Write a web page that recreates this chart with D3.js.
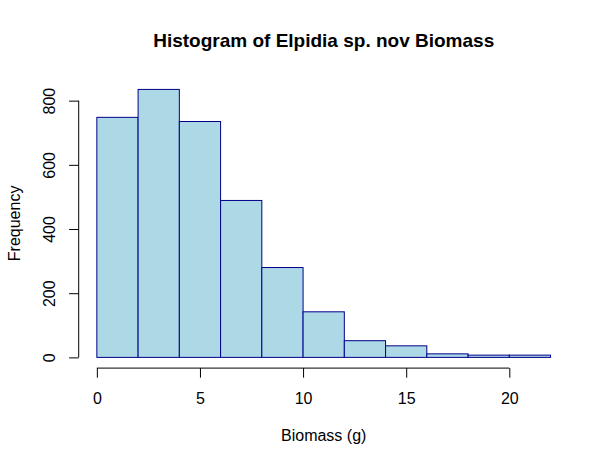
<!DOCTYPE html>
<html>
<head>
<meta charset="utf-8">
<script src="https://cdn.jsdelivr.net/npm/d3@7"></script>
<style>
  body { margin: 0; background: #fff; }
  svg { display: block; font-family: "Liberation Sans", Arial, sans-serif; }
</style>
</head>
<body>
<div id="chart"></div>
<script>
// Histogram bins (width 2 g) and counts
const binStarts = [0, 2, 4, 6, 8, 10, 12, 14, 16, 18, 20];
const binWidth = 2;
const counts = [748, 835, 735, 489, 280, 142, 52, 36, 11, 7, 7];
const xTicks = [0, 5, 10, 15, 20];
const yTicks = [0, 200, 400, 600, 800];

const width = 609, height = 466;
const margin = {top: 78.7, right: 40.3, bottom: 97.9, left: 78.7};

const svg = d3.select("#chart")
  .append("svg")
    .attr("width", width)
    .attr("height", height);

// R-style 4% padding on both axes
const xMax = binStarts[binStarts.length - 1] + binWidth;
const yMax = d3.max(counts);
const xScale = d3.scaleLinear()
  .domain([-0.04 * xMax, 1.04 * xMax])
  .range([margin.left, width - margin.right]);
const yScale = d3.scaleLinear()
  .domain([-0.04 * yMax, 1.04 * yMax])
  .range([height - margin.bottom, margin.top]);

// Bars
svg.append("g")
  .selectAll("rect")
  .data(counts)
  .join("rect")
    .attr("x", (d, i) => xScale(binStarts[i]))
    .attr("y", d => yScale(d))
    .attr("width", (d, i) => xScale(binStarts[i] + binWidth) - xScale(binStarts[i]))
    .attr("height", d => yScale(0) - yScale(d))
    .attr("fill", "lightblue")
    .attr("stroke", "darkblue")
    .attr("stroke-width", 1);

// X axis
const xAxis = svg.append("g")
  .attr("transform", `translate(0, ${height - margin.bottom})`)
  .call(d3.axisBottom(xScale).tickValues(xTicks).tickSize(9.6).tickPadding(15).tickFormat(d3.format("d")));
xAxis.select(".domain").remove();
xAxis.append("line")
  .attr("x1", xScale(xTicks[0]))
  .attr("x2", xScale(xTicks[xTicks.length - 1]))
  .attr("stroke", "black");
xAxis.selectAll("text")
  .attr("fill", "black")
  .style("font-size", "16px");

// Y axis
const yAxis = svg.append("g")
  .attr("transform", `translate(${margin.left}, 0)`)
  .call(d3.axisLeft(yScale).tickValues(yTicks).tickSize(9.6).tickFormat(d3.format("d")));
yAxis.select(".domain").remove();
yAxis.append("line")
  .attr("y1", yScale(yTicks[0]))
  .attr("y2", yScale(yTicks[yTicks.length - 1]))
  .attr("stroke", "black");
yAxis.selectAll(".tick text")
  .attr("x", 0)
  .attr("dy", null)
  .attr("transform", "translate(-23.5, 0) rotate(-90)")
  .attr("text-anchor", "middle")
  .attr("fill", "black")
  .style("font-size", "16px");

// Title
svg.append("text")
  .text("Histogram of Elpidia sp. nov Biomass")
  .attr("x", (margin.left + width - margin.right) / 2)
  .attr("y", 46.7)
  .attr("text-anchor", "middle")
  .style("font-weight", "bold")
  .style("font-size", "19px");

// Axis labels
svg.append("text")
  .text("Biomass (g)")
  .attr("x", (margin.left + width - margin.right) / 2)
  .attr("y", 441)
  .attr("text-anchor", "middle")
  .style("font-size", "16px");

svg.append("text")
  .text("Frequency")
  .attr("transform", `translate(19.5, ${(margin.top + height - margin.bottom) / 2}) rotate(-90)`)
  .attr("text-anchor", "middle")
  .style("font-size", "16px");
</script>
</body>
</html>
